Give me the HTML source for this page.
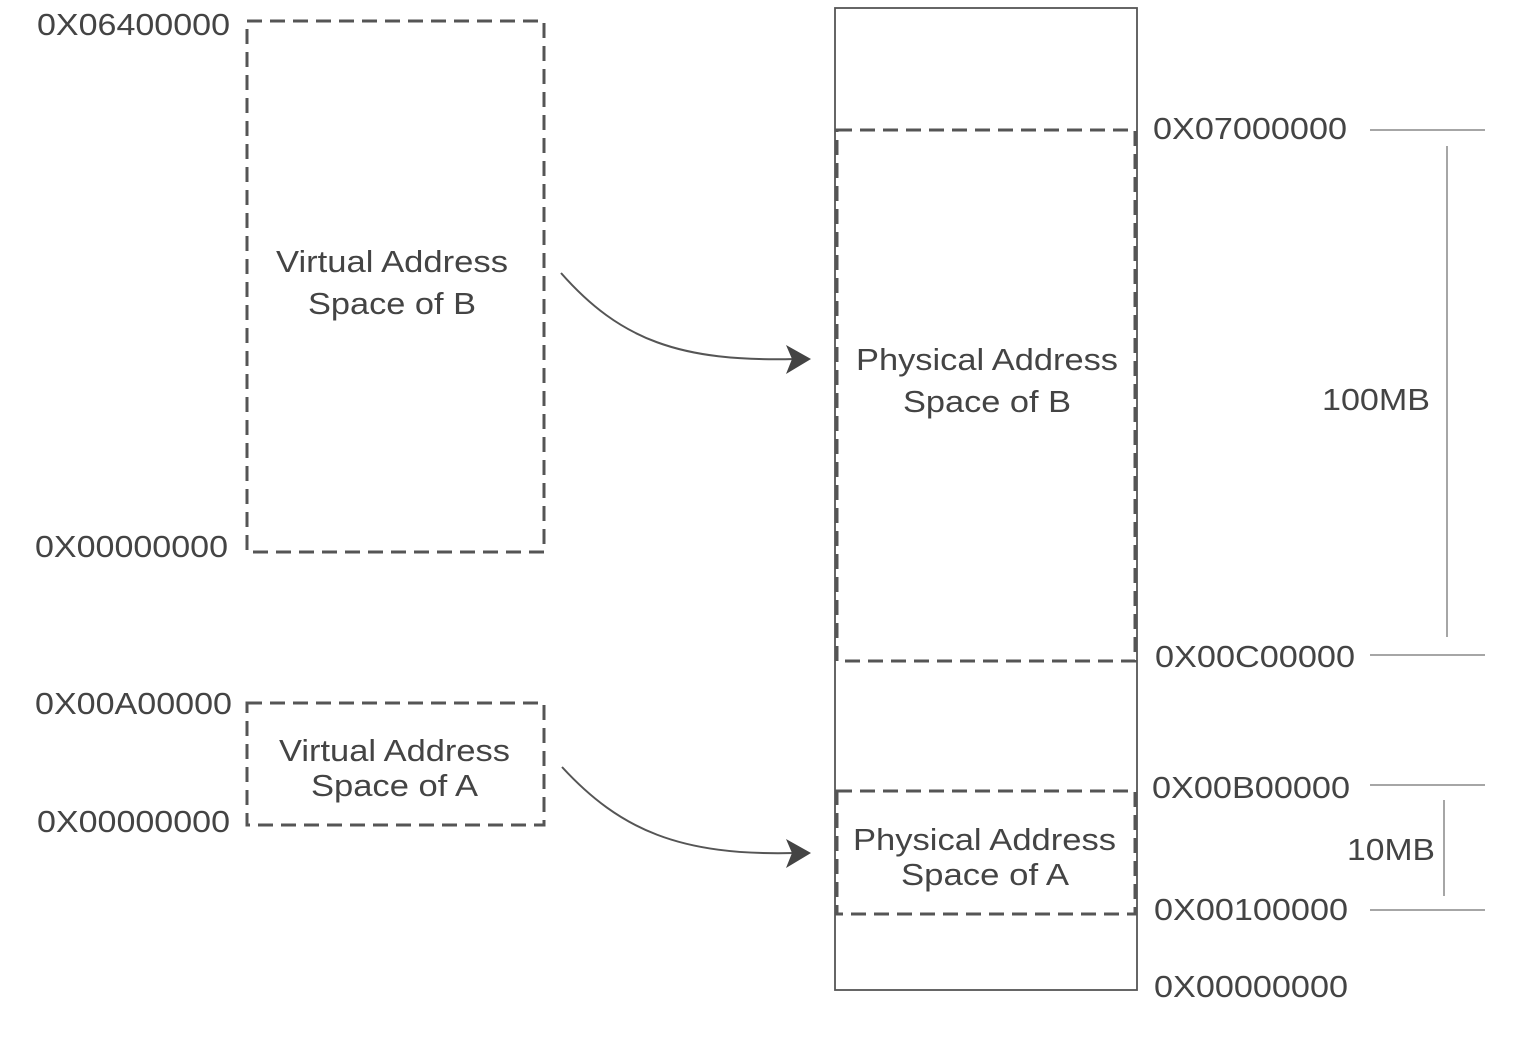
<!DOCTYPE html>
<html><head><style>html,body{margin:0;padding:0;background:#fff}svg{display:block}</style></head>
<body>
<svg width="1524" height="1042" viewBox="0 0 1524 1042" xmlns="http://www.w3.org/2000/svg" font-family="Liberation Sans, sans-serif" font-size="31" fill="#444">
<g fill="none" stroke="#555" stroke-width="3" stroke-dasharray="15 8">
<rect x="247" y="21" width="297" height="531"/>
<rect x="247" y="703" width="297" height="122"/>
<rect x="837" y="130" width="298" height="531"/>
<rect x="837" y="791" width="298" height="123"/>
</g>
<rect x="835" y="8" width="302" height="982" fill="none" stroke="#555" stroke-width="1.8"/>
<g stroke="#888" stroke-width="1.5">
<line x1="1370" y1="130" x2="1485" y2="130"/>
<line x1="1370" y1="655" x2="1485" y2="655"/>
<line x1="1370" y1="785" x2="1485" y2="785"/>
<line x1="1370" y1="910" x2="1485" y2="910"/>
<line x1="1447" y1="146" x2="1447" y2="637"/>
<line x1="1444" y1="800" x2="1444" y2="896"/>
</g>
<g fill="none" stroke="#555" stroke-width="2">
<path d="M561 273 C620 340 680 362 795 359"/>
<path d="M562 767 C620 830 680 856 795 853"/>
</g>
<g fill="#444">
<polygon points="811,359 786,345 792,359 786,374"/>
<polygon points="811,853 786,839 792,853 786,868"/>
</g>
<g>
<text x="37" y="35" textLength="193" lengthAdjust="spacingAndGlyphs">0X06400000</text>
<text x="35" y="557" textLength="193" lengthAdjust="spacingAndGlyphs">0X00000000</text>
<text x="35" y="714" textLength="197" lengthAdjust="spacingAndGlyphs">0X00A00000</text>
<text x="37" y="832" textLength="193" lengthAdjust="spacingAndGlyphs">0X00000000</text>
<text x="1153" y="139" textLength="194" lengthAdjust="spacingAndGlyphs">0X07000000</text>
<text x="1155" y="667" textLength="200" lengthAdjust="spacingAndGlyphs">0X00C00000</text>
<text x="1152" y="798" textLength="198" lengthAdjust="spacingAndGlyphs">0X00B00000</text>
<text x="1154" y="920" textLength="194" lengthAdjust="spacingAndGlyphs">0X00100000</text>
<text x="1154" y="997" textLength="194" lengthAdjust="spacingAndGlyphs">0X00000000</text>
<text x="1322" y="410" textLength="108" lengthAdjust="spacingAndGlyphs">100MB</text>
<text x="1347" y="860" textLength="88" lengthAdjust="spacingAndGlyphs">10MB</text>
</g>
<g>
<text x="276" y="272" textLength="232" lengthAdjust="spacingAndGlyphs">Virtual Address</text>
<text x="308" y="314" textLength="168" lengthAdjust="spacingAndGlyphs">Space of B</text>
<text x="279" y="761" textLength="231" lengthAdjust="spacingAndGlyphs">Virtual Address</text>
<text x="311" y="796" textLength="167" lengthAdjust="spacingAndGlyphs">Space of A</text>
<text x="856" y="370" textLength="262" lengthAdjust="spacingAndGlyphs">Physical Address</text>
<text x="903" y="412" textLength="168" lengthAdjust="spacingAndGlyphs">Space of B</text>
<text x="853" y="850" textLength="263" lengthAdjust="spacingAndGlyphs">Physical Address</text>
<text x="901" y="885" textLength="168" lengthAdjust="spacingAndGlyphs">Space of A</text>
</g>
</svg>
</body></html>
